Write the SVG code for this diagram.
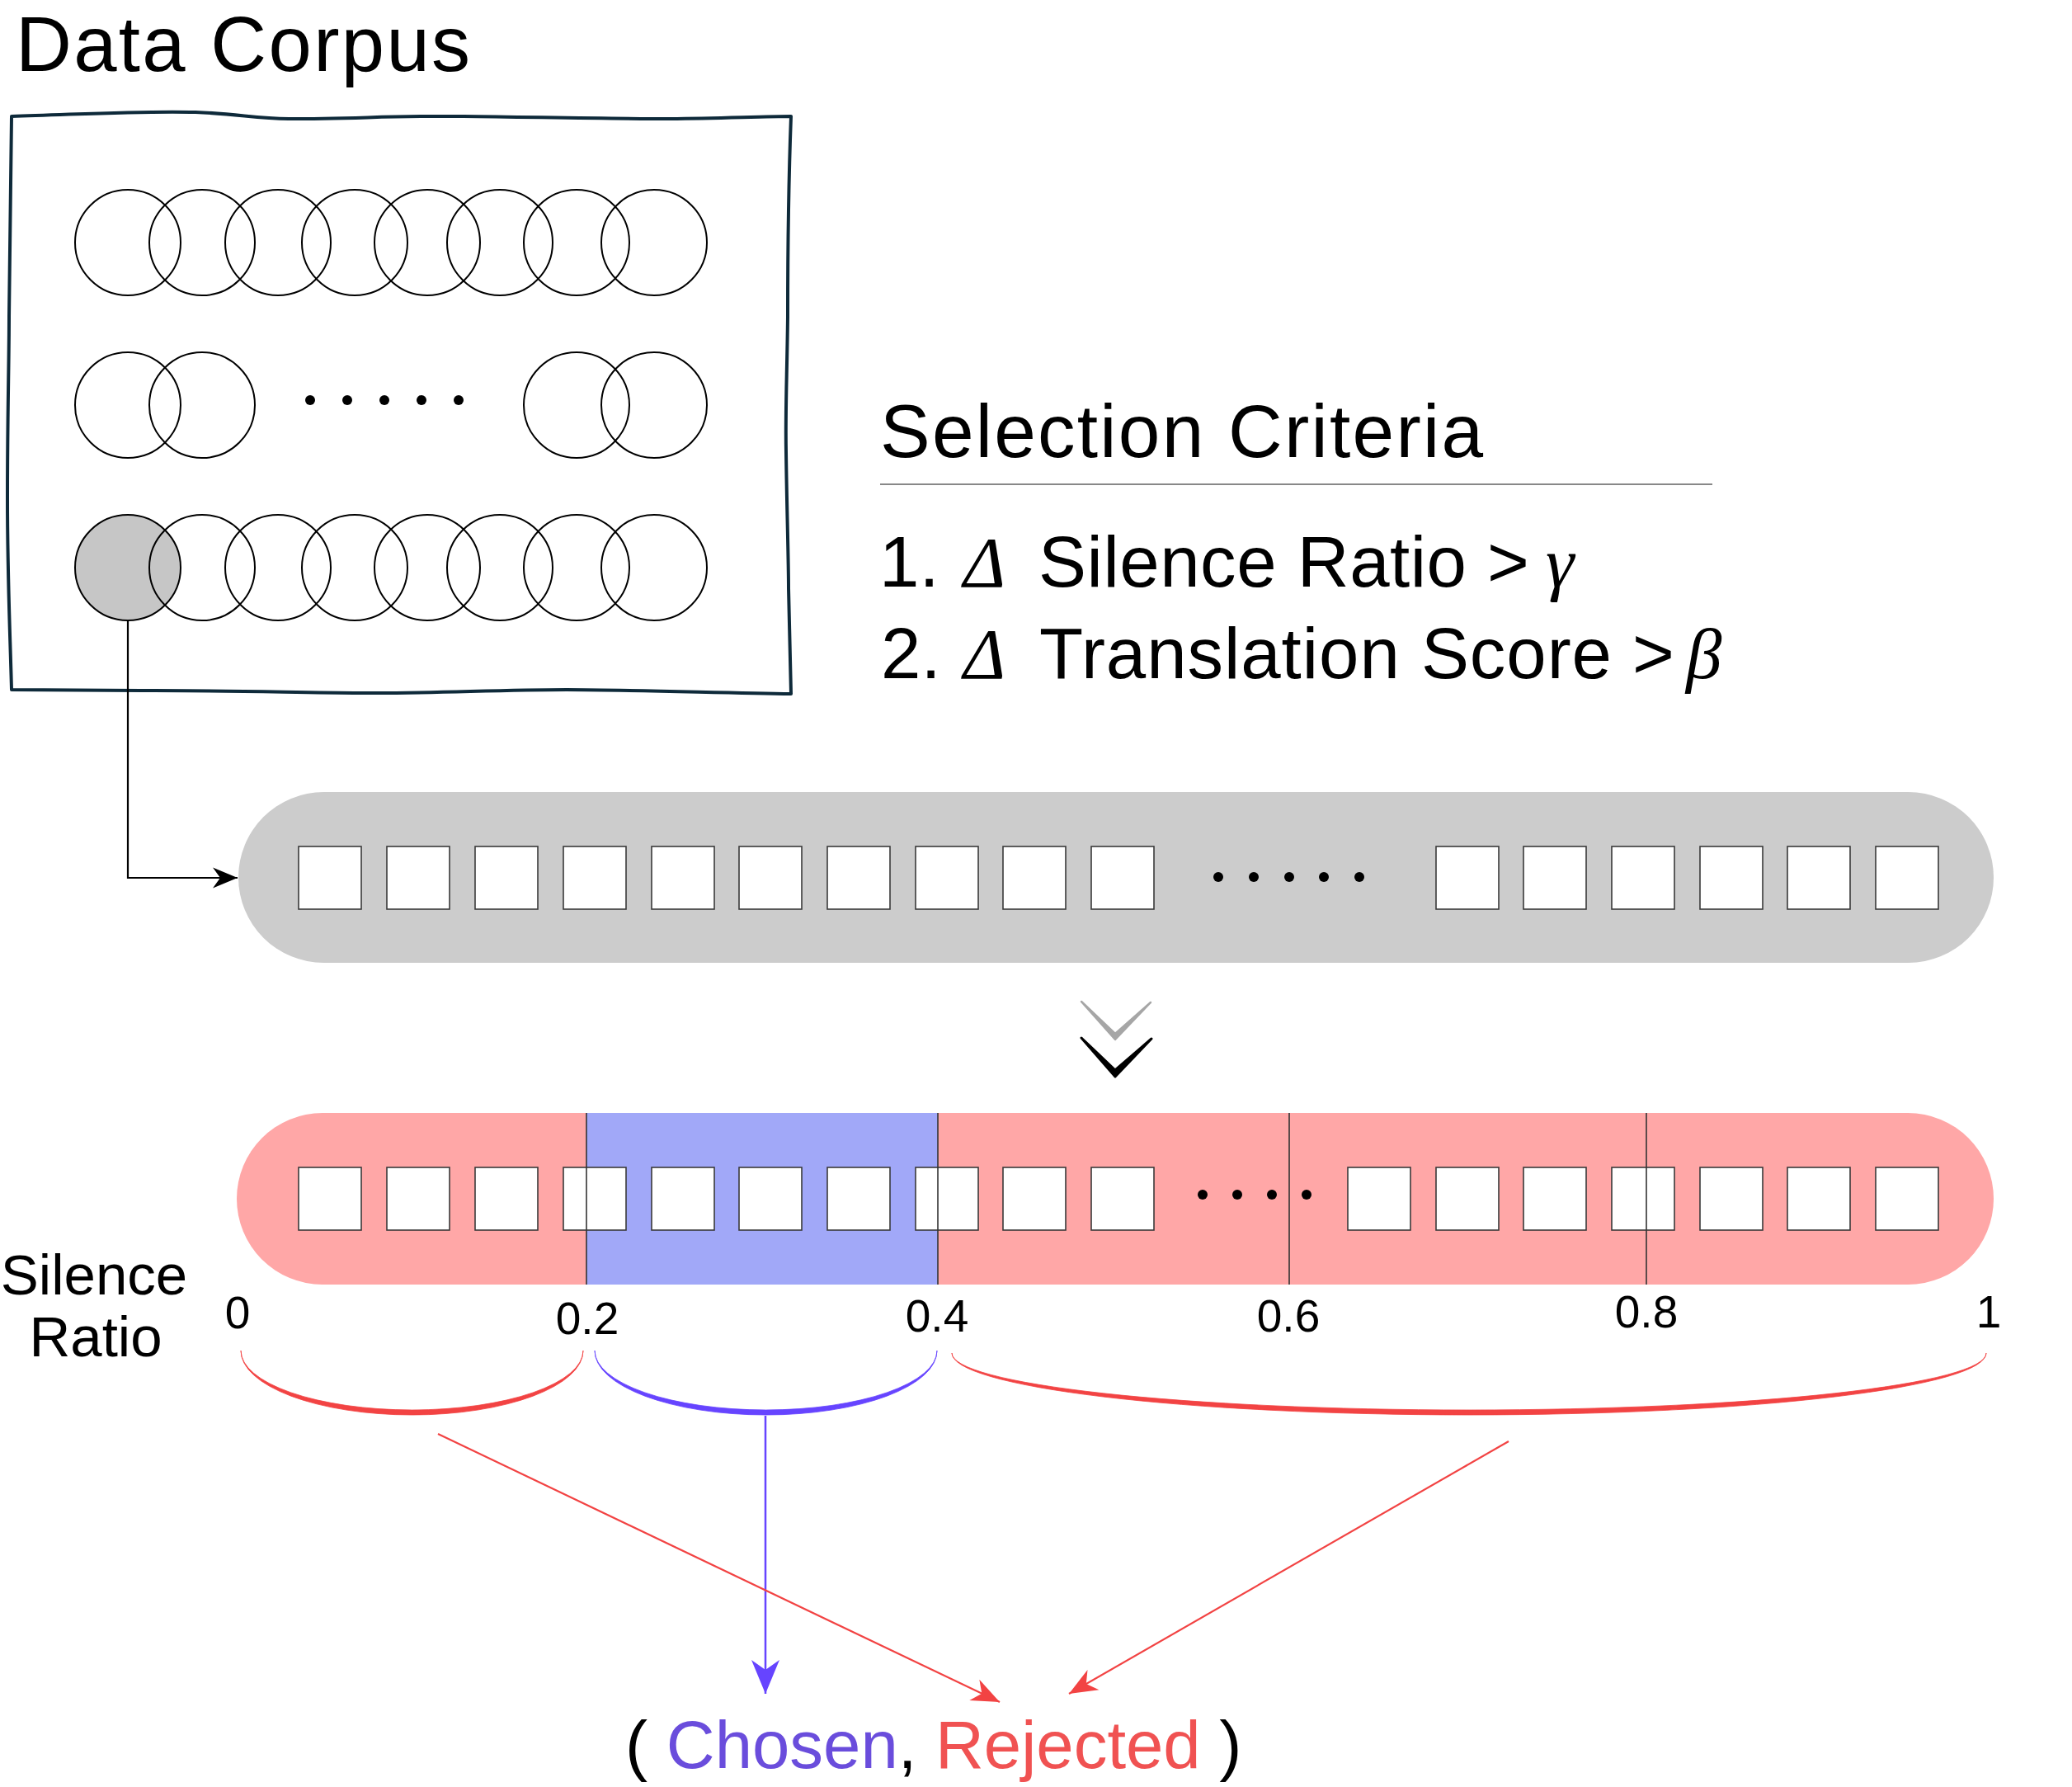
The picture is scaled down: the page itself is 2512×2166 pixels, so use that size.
<svg xmlns="http://www.w3.org/2000/svg" width="2512" height="2166" viewBox="0 0 2512 2166">
<style>
  .txt { font-family: "Liberation Sans", Arial, Helvetica, sans-serif; fill: #000; }
  .math { font-family: "Liberation Serif", "Times New Roman", serif; font-style: italic; }
  .circ { fill: none; stroke: #000; stroke-width: 2; }
  .sq { fill: #fff; stroke: #3a3a3a; stroke-width: 1.6; }
  .dot { fill: #000; }
  .tick { stroke: #333; stroke-width: 1.6; }
  .lbl { font-size: 55px; text-anchor: middle; }
</style>
<defs>
  <marker id="arrBlack" markerUnits="userSpaceOnUse" viewBox="-32 -14 34 28" refX="0" refY="0" markerWidth="34" markerHeight="28" orient="auto">
    <path d="M0,0 L-30,-12.5 L-21,0 L-30,12.5 Z" fill="#000"/>
  </marker>
  <marker id="arrBlue" markerUnits="userSpaceOnUse" viewBox="-44 -19 46 38" refX="0" refY="0" markerWidth="46" markerHeight="38" orient="auto">
    <path d="M0,0 L-41,-17 L-29,0 L-41,17 Z" fill="#6644ff"/>
  </marker>
  <marker id="arrRed" markerUnits="userSpaceOnUse" viewBox="-38 -16 40 32" refX="0" refY="0" markerWidth="40" markerHeight="32" orient="auto">
    <path d="M0,0 L-34,-14 L-24,0 L-34,14 Z" fill="#f24343"/>
  </marker>
</defs>
<rect x="0" y="0" width="2512" height="2166" fill="#fff"/>

<g id="data-corpus">
  <text class="txt" x="19" y="86" font-size="94" textLength="551">Data Corpus</text>
  <path d="M14,141 C90,139 170,134 237,136 C290,138 310,144 350,144 C430,144 480,140 562,141 C650,142 740,144 812,144 C880,143 930,141 959,141 C956,220 955,300 955,384 C954,460 952,500 953,548 C954,620 956,680 956,713 C957,770 958,810 959,841 C880,840 760,836 687,836 C600,836 520,841 437,840 C350,839 260,837 187,837 C120,837 50,836 14,836 C12,760 9,700 9,603 C9,500 11,440 11,384 C12,300 13,220 14,141 Z" fill="none" stroke="#0e2a3a" stroke-width="4" stroke-linejoin="round"/>
  <g id="row1">
    <circle class="circ" cx="155" cy="294" r="64"/>
    <circle class="circ" cx="245" cy="294" r="64"/>
    <circle class="circ" cx="337" cy="294" r="64"/>
    <circle class="circ" cx="430" cy="294" r="64"/>
    <circle class="circ" cx="518" cy="294" r="64"/>
    <circle class="circ" cx="606" cy="294" r="64"/>
    <circle class="circ" cx="699" cy="294" r="64"/>
    <circle class="circ" cx="793" cy="294" r="64"/>
  </g>
  <g id="row2">
    <circle class="circ" cx="155" cy="491" r="64"/>
    <circle class="circ" cx="245" cy="491" r="64"/>
    <circle class="dot" cx="376" cy="485" r="6"/>
    <circle class="dot" cx="421" cy="485" r="6"/>
    <circle class="dot" cx="466" cy="485" r="6"/>
    <circle class="dot" cx="511" cy="485" r="6"/>
    <circle class="dot" cx="556" cy="485" r="6"/>
    <circle class="circ" cx="699" cy="491" r="64"/>
    <circle class="circ" cx="793" cy="491" r="64"/>
  </g>
  <g id="row3">
    <circle cx="155" cy="688" r="64" fill="#c6c6c6" stroke="#000" stroke-width="2"/>
    <circle class="circ" cx="245" cy="688" r="64"/>
    <circle class="circ" cx="337" cy="688" r="64"/>
    <circle class="circ" cx="430" cy="688" r="64"/>
    <circle class="circ" cx="518" cy="688" r="64"/>
    <circle class="circ" cx="606" cy="688" r="64"/>
    <circle class="circ" cx="699" cy="688" r="64"/>
    <circle class="circ" cx="793" cy="688" r="64"/>
  </g>
</g>

<g id="selection-criteria">
  <text class="txt" x="1067" y="554" font-size="91" textLength="731">Selection Criteria</text>
  <line x1="1067" y1="587" x2="2076" y2="587" stroke="#888" stroke-width="2.2"/>
  <text class="txt" y="711" font-size="87"><tspan x="1066">1.</tspan><tspan x="1168" class="math">Δ</tspan><tspan x="1259" textLength="519">Silence Ratio</tspan><tspan x="1803">&gt;</tspan><tspan x="1874" class="math">γ</tspan></text>
  <text class="txt" y="822" font-size="87"><tspan x="1068">2.</tspan><tspan x="1168" class="math">Δ</tspan><tspan x="1260" textLength="694">Translation Score</tspan><tspan x="1979">&gt;</tspan><tspan x="2044" class="math">β</tspan></text>
</g>

<g id="sequence-gray">
  <rect x="289" y="960" width="2128" height="207" rx="103.5" ry="103.5" fill="#cccccc"/>
  <rect class="sq" x="362" y="1026" width="76" height="76"/>
  <rect class="sq" x="469" y="1026" width="76" height="76"/>
  <rect class="sq" x="576" y="1026" width="76" height="76"/>
  <rect class="sq" x="683" y="1026" width="76" height="76"/>
  <rect class="sq" x="790" y="1026" width="76" height="76"/>
  <rect class="sq" x="896" y="1026" width="76" height="76"/>
  <rect class="sq" x="1003" y="1026" width="76" height="76"/>
  <rect class="sq" x="1110" y="1026" width="76" height="76"/>
  <rect class="sq" x="1216" y="1026" width="76" height="76"/>
  <rect class="sq" x="1323" y="1026" width="76" height="76"/>
  <circle class="dot" cx="1477" cy="1063" r="6"/>
  <circle class="dot" cx="1520" cy="1063" r="6"/>
  <circle class="dot" cx="1563" cy="1063" r="6"/>
  <circle class="dot" cx="1605" cy="1063" r="6"/>
  <circle class="dot" cx="1648" cy="1063" r="6"/>
  <rect class="sq" x="1741" y="1026" width="76" height="76"/>
  <rect class="sq" x="1847" y="1026" width="76" height="76"/>
  <rect class="sq" x="1954" y="1026" width="76" height="76"/>
  <rect class="sq" x="2061" y="1026" width="76" height="76"/>
  <rect class="sq" x="2167" y="1026" width="76" height="76"/>
  <rect class="sq" x="2274" y="1026" width="76" height="76"/>
</g>

<g id="chevrons">
  <polygon points="1311,1214 1352,1260 1395,1215 1352,1253" fill="#a6a6a6" stroke="#a6a6a6" stroke-width="2.5" stroke-linejoin="round"/>
  <polygon points="1311,1258 1352,1305 1396,1259 1352,1297" fill="#000" stroke="#000" stroke-width="3" stroke-linejoin="round"/>
</g>

<g id="sequence-colored">
  <rect x="287" y="1349" width="2130" height="208" rx="104" ry="104" fill="#ffa7a7"/>
  <rect x="711" y="1349" width="426" height="208" fill="#a1a8f8"/>
  <rect class="sq" x="362" y="1415" width="76" height="76"/>
  <rect class="sq" x="469" y="1415" width="76" height="76"/>
  <rect class="sq" x="576" y="1415" width="76" height="76"/>
  <rect class="sq" x="683" y="1415" width="76" height="76"/>
  <rect class="sq" x="790" y="1415" width="76" height="76"/>
  <rect class="sq" x="896" y="1415" width="76" height="76"/>
  <rect class="sq" x="1003" y="1415" width="76" height="76"/>
  <rect class="sq" x="1110" y="1415" width="76" height="76"/>
  <rect class="sq" x="1216" y="1415" width="76" height="76"/>
  <rect class="sq" x="1323" y="1415" width="76" height="76"/>
  <circle class="dot" cx="1458" cy="1448" r="6"/>
  <circle class="dot" cx="1500" cy="1448" r="6"/>
  <circle class="dot" cx="1542" cy="1448" r="6"/>
  <circle class="dot" cx="1584" cy="1448" r="6"/>
  <rect class="sq" x="1634" y="1415" width="76" height="76"/>
  <rect class="sq" x="1741" y="1415" width="76" height="76"/>
  <rect class="sq" x="1847" y="1415" width="76" height="76"/>
  <rect class="sq" x="1954" y="1415" width="76" height="76"/>
  <rect class="sq" x="2061" y="1415" width="76" height="76"/>
  <rect class="sq" x="2167" y="1415" width="76" height="76"/>
  <rect class="sq" x="2274" y="1415" width="76" height="76"/>
  <line class="tick" x1="711" y1="1349" x2="711" y2="1557"/>
  <line class="tick" x1="1137" y1="1349" x2="1137" y2="1557"/>
  <line class="tick" x1="1563" y1="1349" x2="1563" y2="1557"/>
  <line class="tick" x1="1996" y1="1349" x2="1996" y2="1557"/>
</g>

<g id="axis-labels" class="txt">
  <text x="114" y="1569" font-size="69" text-anchor="middle">Silence</text>
  <text x="116" y="1644" font-size="69" text-anchor="middle">Ratio</text>
  <text class="lbl" x="288" y="1610">0</text>
  <text class="lbl" x="712" y="1617">0.2</text>
  <text class="lbl" x="1136" y="1614">0.4</text>
  <text class="lbl" x="1562" y="1614">0.6</text>
  <text class="lbl" x="1996" y="1609">0.8</text>
  <text class="lbl" x="2411" y="1609">1</text>
</g>

<g id="braces">
  <path d="M292,1637 A207.5,72 0 0 0 707,1637 A207.5,78 0 0 1 292,1637 Z" fill="#f24343" stroke="#f24343" stroke-width="0.8"/>
  <path d="M721,1637 A207.5,72 0 0 0 1136,1637 A207.5,78 0 0 1 721,1637 Z" fill="#6644ff" stroke="#6644ff" stroke-width="0.8"/>
  <path d="M1154,1640 A627,69 0 0 0 2408,1640 A627,75 0 0 1 1154,1640 Z" fill="#f24343" stroke="#f24343" stroke-width="0.8"/>
</g>

<g id="connectors" fill="none">
  <path d="M155,752 L155,1064 L288,1064" stroke="#000" stroke-width="2.2" marker-end="url(#arrBlack)"/>
  <line x1="928" y1="1716" x2="928" y2="2053" stroke="#6644ff" stroke-width="2.5" marker-end="url(#arrBlue)"/>
  <line x1="531" y1="1738" x2="1212" y2="2063" stroke="#f24343" stroke-width="2.2" marker-end="url(#arrRed)"/>
  <line x1="1829" y1="1747" x2="1296" y2="2053" stroke="#f24343" stroke-width="2.2" marker-end="url(#arrRed)"/>
</g>

<g id="output-label">
  <text class="txt" x="758" y="2143" font-size="81.5">( <tspan fill="#6a4ddc">Chosen</tspan>, <tspan fill="#f05252">Rejected</tspan> )</text>
</g>
</svg>
